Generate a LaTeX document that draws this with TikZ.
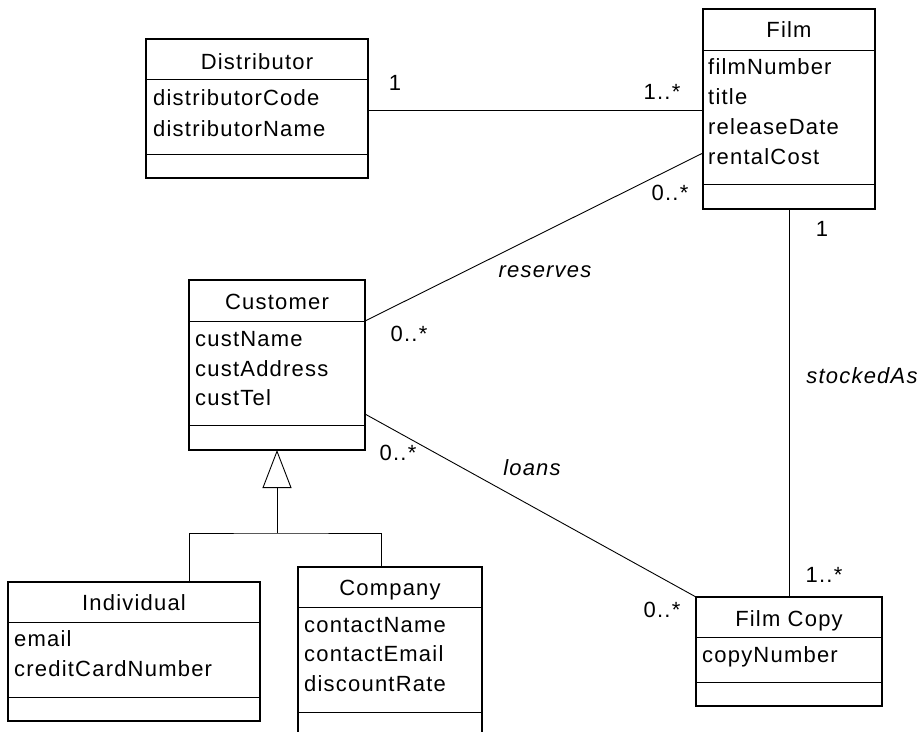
\documentclass[tikz,border=0pt]{standalone}
\usepackage{fontspec}
\setmainfont{Liberation Sans}[LetterSpace=5.5]
\usetikzlibrary{arrows.meta,calc}
\begin{document}
\begin{tikzpicture}[x=1pt,y=-1pt, font=\fontsize{22}{26}\selectfont,
 classbox/.style={draw, line width=1.2pt, inner sep=0pt, outer sep=0pt, anchor=north west},
 sepline/.style={line width=0.9pt},
 assoc/.style={line width=0.9pt},
 ctitle/.style={anchor=base, inner sep=0pt},
 cattr/.style={anchor=base west, inner sep=0pt},
 mult/.style={anchor=base, inner sep=0pt},
 role/.style={anchor=base, inner sep=0pt, font=\fontsize{22}{26}\selectfont\itshape}]
\clip (0,0) rectangle (921,731);
\fill[white] (0,0) rectangle (921,731);

% Distributor
\node[classbox, minimum width=222pt, minimum height=139pt] (dist) at (146,39) {};
\draw[sepline] ($(dist.north west)+(0,40)$) -- ($(dist.north east)+(0,40)$);
\draw[sepline] ($(dist.north west)+(0,115)$) -- ($(dist.north east)+(0,115)$);
\node[ctitle] (distT) at (257,69) {Distributor};
\node[cattr] (distA1) at (153,105) {distributorCode};
\node[cattr] (distA2) at (153,136) {distributorName};

% Film
\node[classbox, minimum width=172pt, minimum height=200pt] (film) at (703,9) {};
\draw[sepline] ($(film.north west)+(0,41)$) -- ($(film.north east)+(0,41)$);
\draw[sepline] ($(film.north west)+(0,175)$) -- ($(film.north east)+(0,175)$);
\node[ctitle] (filmT) at (789,37.5) {Film};
\node[cattr] (filmA1) at (708,74.5) {filmNumber};
\node[cattr] (filmA2) at (708,104.5) {title};
\node[cattr] (filmA3) at (708,134.5) {releaseDate};
\node[cattr] (filmA4) at (708,164.5) {rentalCost};

% Customer
\node[classbox, minimum width=176pt, minimum height=170pt] (cust) at (189,280) {};
\draw[sepline] ($(cust.north west)+(0,41)$) -- ($(cust.north east)+(0,41)$);
\draw[sepline] ($(cust.north west)+(0,145)$) -- ($(cust.north east)+(0,145)$);
\node[ctitle] (custT) at (277,309) {Customer};
\node[cattr] (custA1) at (195,346.5) {custName};
\node[cattr] (custA2) at (195,376) {custAddress};
\node[cattr] (custA3) at (195,405) {custTel};

% Individual
\node[classbox, minimum width=252pt, minimum height=139pt] (indiv) at (8,582) {};
\draw[sepline] ($(indiv.north west)+(0,40)$) -- ($(indiv.north east)+(0,40)$);
\draw[sepline] ($(indiv.north west)+(0,115)$) -- ($(indiv.north east)+(0,115)$);
\node[ctitle] (indivT) at (134,610) {Individual};
\node[cattr] (indivA1) at (14,646.5) {email};
\node[cattr] (indivA2) at (14,676.5) {creditCardNumber};

% Company
\node[classbox, minimum width=184pt, minimum height=200pt] (comp) at (298,567) {};
\draw[sepline] ($(comp.north west)+(0,40)$) -- ($(comp.north east)+(0,40)$);
\draw[sepline] ($(comp.north west)+(0,145)$) -- ($(comp.north east)+(0,145)$);
\node[ctitle] (compT) at (390,595) {Company};
\node[cattr] (compA1) at (304,632) {contactName};
\node[cattr] (compA2) at (304,661.5) {contactEmail};
\node[cattr] (compA3) at (304,691.5) {discountRate};

% Film Copy
\node[classbox, minimum width=186pt, minimum height=109pt] (fcopy) at (696,597) {};
\draw[sepline] ($(fcopy.north west)+(0,40)$) -- ($(fcopy.north east)+(0,40)$);
\draw[sepline] ($(fcopy.north west)+(0,85)$) -- ($(fcopy.north east)+(0,85)$);
\node[ctitle] (fcopyT) at (789,626) {Film Copy};
\node[cattr] (fcopyA1) at (702,662) {copyNumber};

% Associations
\coordinate (dA) at ($(dist.north east)+(0,71)$);
\draw[assoc] (dA) -- (dA -| film.west);
\coordinate (cR) at ($(cust.north east)+(0,41)$);
\coordinate (fR) at ($(film.north west)+(0,144)$);
\draw[assoc] (cR) -- (fR);
\coordinate (cL) at ($(cust.north east)+(0,134)$);
\draw[assoc] (cL) -- (fcopy.north west);
\draw[assoc] (film.south) -- (fcopy.north);

% Generalization
\coordinate (gj) at (277,533);
\draw[assoc] ($(indiv.north west)+(181,0)$) |- (gj) -| ($(comp.north west)+(83,0)$);
\draw[assoc, -{Triangle[open, length=38pt, width=29pt]}] (gj) -- (cust.south);

% Multiplicities and roles
\node[mult] (m1) at (395,90) {1};
\node[mult] (m2) at (662,99.3) {1..*};
\node[mult] (m3) at (670,200) {0..*};
\node[role] (r1) at (545,277) {reserves};
\node[mult] (m4) at (409,341.7) {0..*};
\node[mult] (m5) at (398,460) {0..*};
\node[role] (r2) at (532,475.7) {loans};
\node[mult] (m6) at (662,617) {0..*};
\node[mult] (m7) at (824,582.7) {1..*};
\node[mult] (m8) at (822,236.7) {1};
\node[role] (r3) at (862,383) {stockedAs};
\end{tikzpicture}
\end{document}
